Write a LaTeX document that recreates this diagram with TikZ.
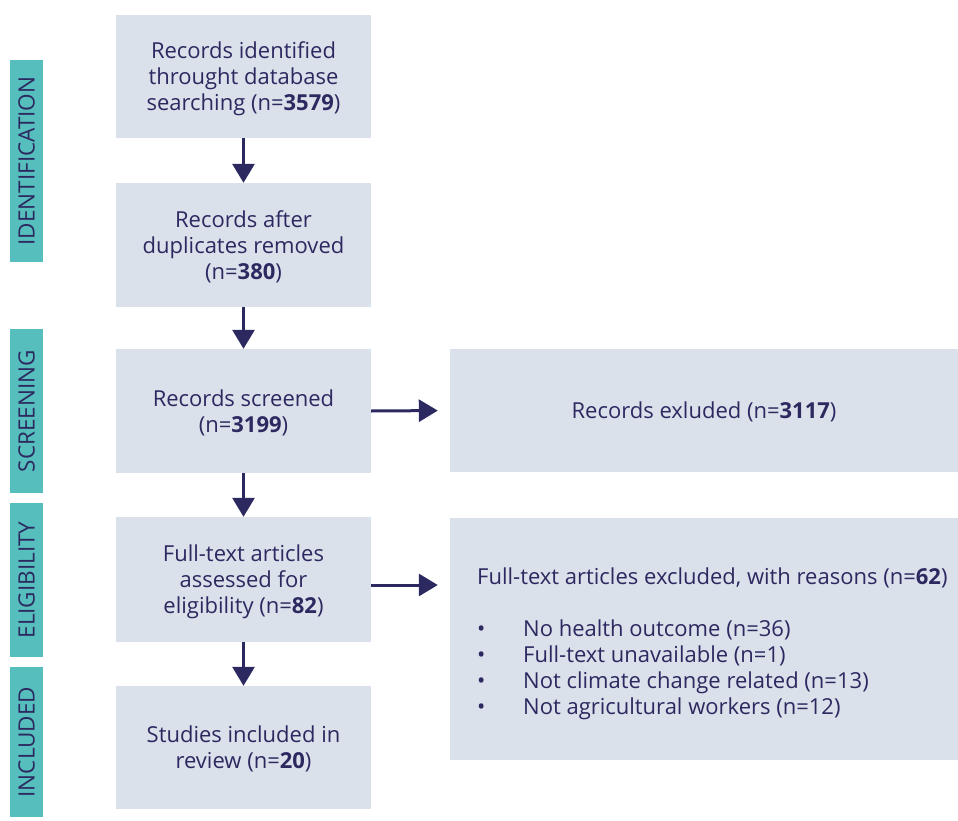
\documentclass[tikz,border=0pt]{standalone}
\usepackage{fontspec}
\setmainfont{Open Sans}
\usetikzlibrary{arrows.meta,positioning,calc}

\definecolor{ink}{HTML}{2B2960}
\definecolor{boxfill}{HTML}{DAE1EA}
\definecolor{stage}{HTML}{56BEBC}

\tikzset{
  boxfont/.style={font=\fontsize{22pt}{26pt}\selectfont, text=ink, text depth=0pt},
  flowbox/.style={boxfont, fill=boxfill, draw=none, minimum width=255pt,
    minimum height=123pt, inner sep=0pt, align=center},
  widebox/.style={boxfont, fill=boxfill, draw=none, minimum width=508pt,
    inner sep=0pt, align=center},
  stagebar/.style={fill=stage, draw=none, minimum height=33pt, inner sep=0pt,
    rotate=90, text=ink, font=\fontsize{22.5pt}{24pt}\selectfont},
  flowarrow/.style={draw=ink, line width=3pt,
    -{Triangle[width=22pt,length=19pt]}},
}

\begin{document}
\begin{tikzpicture}[x=1pt, y=-1pt]
  \useasboundingbox[fill=white] (0,0) rectangle (958,821);

  % stage labels down the left edge
  \node[stagebar, minimum width=202pt] (sid) at (26.5,161) {IDENTIFICATION};
  \node[stagebar, minimum width=164pt] (ssc) at (26.5,411) {SCREENING};
  \node[stagebar, minimum width=154pt] (sel) at (26.5,580) {ELIGIBILITY};
  \node[stagebar, minimum width=150pt] (sin) at (26.5,742) {INCLUDED};

  % main column
  \node[flowbox] (b1) at (243.5,76.5) {Records identified\\throught database\\searching (n=\textbf{3579})};
  \node[flowbox, minimum height=124pt] (b2) at (243.5,245) {Records after\\duplicates removed\\(n=\textbf{380})};
  \node[flowbox, minimum height=124pt] (b3) at (243.5,411) {Records screened\\(n=\textbf{3199})};
  \node[flowbox, minimum height=125pt] (b4) at (243.5,579.5) {Full-text articles\\assessed for\\eligibility (n=\textbf{82})};
  \node[flowbox] (b5) at (243.5,747.5) {Studies included in\\review (n=\textbf{20})};

  % exclusion boxes
  \node[widebox, minimum height=123pt] (r1) at (704,410.5) {Records exluded (n=\textbf{3117})};
  \node[widebox, minimum height=242pt] (r2) at (704,639) {};
  \node[boxfont, anchor=west, align=left, inner sep=0pt] (r2text) at (477,641.5)
    {Full-text articles excluded, with reasons (n=\textbf{62})\\[26pt]
     \makebox[46pt][l]{•}No health outcome (n=36)\\
     \makebox[46pt][l]{•}Full-text unavailable (n=1)\\
     \makebox[46pt][l]{•}Not climate change related (n=13)\\
     \makebox[46pt][l]{•}Not agricultural workers (n=12)};

  % connectors
  \draw[flowarrow] (b1) -- (b2);
  \draw[flowarrow] (b2) -- (b3);
  \draw[flowarrow] (b3) -- (b4);
  \draw[flowarrow] (b4) -- (b5);
  \draw[flowarrow, shorten >=12pt] (b3.east) -- (r1.west);
  \draw[flowarrow, shorten >=12pt] ([yshift=-5.5pt]b4.east) -- ([yshift=-5.5pt]b4.east -| r2.west);
\end{tikzpicture}
\end{document}
